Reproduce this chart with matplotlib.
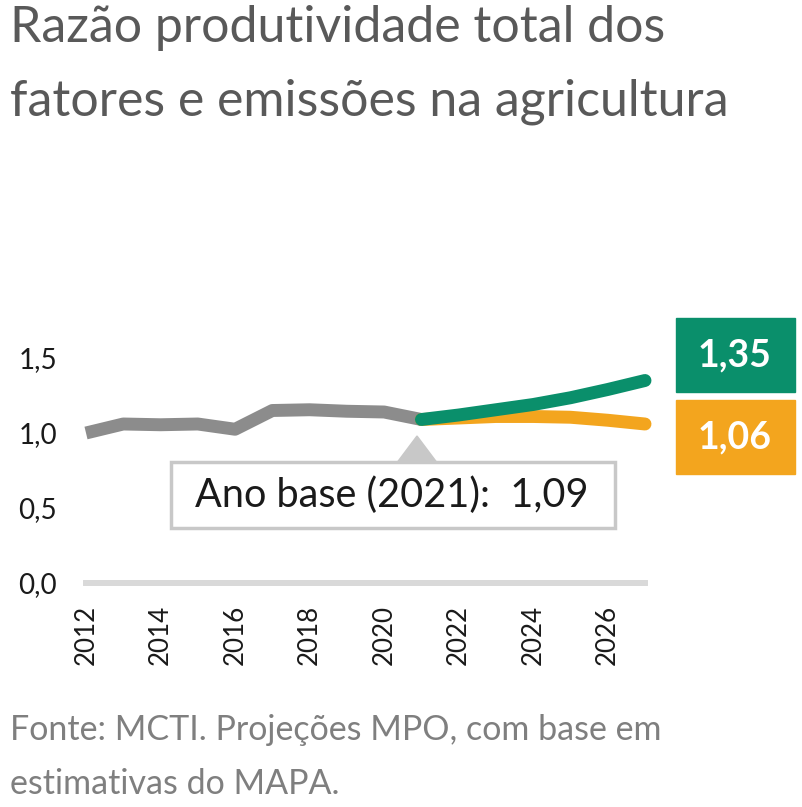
import matplotlib.pyplot as plt
from matplotlib.patches import Rectangle, Polygon

# dados
anos_hist = [2012, 2013, 2014, 2015, 2016, 2017, 2018, 2019, 2020, 2021]
razao_hist = [1.00, 1.06, 1.055, 1.06, 1.025, 1.15, 1.155, 1.145, 1.14, 1.09]
anos_proj = [2021, 2022, 2023, 2024, 2025, 2026, 2027]
proj_verde = [1.09, 1.12, 1.155, 1.19, 1.235, 1.29, 1.35]
proj_laranja = [1.09, 1.10, 1.11, 1.11, 1.105, 1.085, 1.06]
xticks = [2012, 2014, 2016, 2018, 2020, 2022, 2024, 2026]
yticks = [0.0, 0.5, 1.0, 1.5]
ytick_labels = ["0,0", "0,5", "1,0", "1,5"]

W, H = 802, 807
FONT = ['Lato', 'DejaVu Sans']
CINZA = '#8c8c8c'
VERDE = '#0a8f6b'
LARANJA = '#f3a51e'
TEXTO = '#595959'

plt.rcParams['font.family'] = FONT

fig = plt.figure(figsize=(W / 100, H / 100), dpi=100)

# eixo: x de 86 a 645 px, y=0 em 583 px, y=1.6 em 343 px
ax = fig.add_axes([86 / W, 1 - 583 / H, (645 - 86) / W, 240 / H])
ax.set_xlim(2012, 2027)
ax.set_ylim(0, 1.6)
for s in ax.spines.values():
    s.set_visible(False)
ax.axhline(0, color='#d9d9d9', lw=4.3, zorder=1, clip_on=False)

ax.plot(anos_proj, proj_laranja, color=LARANJA, lw=9.3, solid_capstyle='round',
        solid_joinstyle='round', zorder=3, clip_on=False)
ax.plot(anos_proj, proj_verde, color=VERDE, lw=9.3, solid_capstyle='round',
        solid_joinstyle='round', zorder=4, clip_on=False)
ax.plot(anos_hist, razao_hist, color=CINZA, lw=9.3, solid_capstyle='butt',
        zorder=2, clip_on=False)

ax.set_xticks(xticks)
ax.set_xticklabels([str(a) for a in xticks], rotation=90, fontsize=18.7,
                   color='#1a1a1a')
ax.set_yticks(yticks)
ax.set_yticklabels(ytick_labels, fontsize=20, color='#1a1a1a')
ax.tick_params(length=0)
ax.tick_params(axis='x', pad=16)
ax.tick_params(axis='y', pad=21)

# titulo
fig.text(10 / W, 1 - 5 / H, "Razão produtividade total dos\nfatores e emissões na agricultura",
         ha='left', va='top', fontsize=36, color=TEXTO, linespacing=1.75)

# caixas de valor
fig.patches.append(Rectangle((676 / W, 1 - 392 / H), 119 / W, 74 / H,
                             transform=fig.transFigure, color=VERDE))
fig.text(735 / W, 1 - 355 / H, "1,35", ha='center', va='center',
         fontsize=27, fontweight='bold', color='white')
fig.patches.append(Rectangle((676 / W, 1 - 474 / H), 119 / W, 74 / H,
                             transform=fig.transFigure, color=LARANJA))
fig.text(735 / W, 1 - 437 / H, "1,06", ha='center', va='center',
         fontsize=27, fontweight='bold', color='white')

# caixa do ano base
fig.patches.append(Polygon([(396 / W, 1 - 464 / H), (438 / W, 1 - 464 / H),
                            (417 / W, 1 - 436 / H)], closed=True,
                           transform=fig.transFigure, color='#c8c8c8', zorder=5))
fig.patches.append(Rectangle((171 / W, 1 - 528 / H), 444 / W, 66 / H,
                             transform=fig.transFigure, facecolor='white',
                             edgecolor='#c8c8c8', lw=2.5, zorder=6))
fig.text(392 / W, 1 - 495 / H, "Ano base (2021):  1,09", ha='center', va='center',
         fontsize=28.5, color='#1a1a1a', zorder=7)

# fonte
fig.text(10 / W, 1 - 714 / H, "Fonte: MCTI. Projeções MPO, com base em\nestimativas do MAPA.",
         ha='left', va='top', fontsize=24.5, color='#7f7f7f', linespacing=1.85)

fig.savefig('out.png', dpi=100)
